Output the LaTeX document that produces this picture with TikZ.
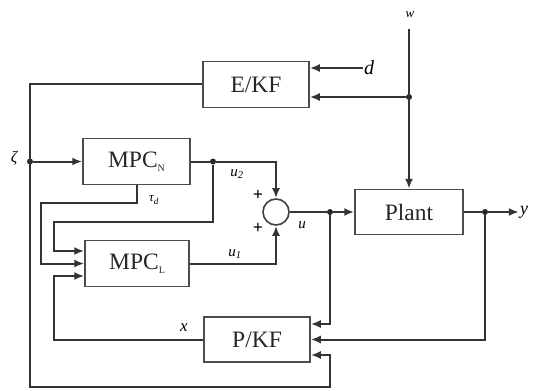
\documentclass[tikz,border=0pt]{standalone}
\usepackage{fontspec}
\setmainfont{Liberation Serif}
\usetikzlibrary{arrows.meta,calc}
\newcommand{\smallsub}[1]{\raisebox{-4pt}{\fontsize{10}{12}\selectfont #1}}
\begin{document}
\begin{tikzpicture}[x=1pt,y=-1pt,
  blk/.style={draw=black!70,line width=1.5pt,minimum width=106pt,minimum height=46pt,inner sep=0pt,text=black!85,font=\rmfamily\fontsize{23.5}{26}\selectfont},
  wire/.style={draw=black!80,line width=2pt},
  arr/.style={wire,-{Latex[length=10pt,width=8pt]}},
  dot/.style={circle,fill=black!85,inner sep=0pt,minimum size=6pt},
  lab/.style={inner sep=1pt,font=\rmfamily\fontsize{15}{17}\selectfont\itshape},
  plus/.style={inner sep=0pt,font=\rmfamily\bfseries\fontsize{18}{20}\selectfont}
]
\useasboundingbox (0,0) rectangle (534,390);
% blocks
\node[blk] (EKF) at (256,84.5) {E/KF};
\node[blk,minimum width=107pt] (MPCN) at (136.5,161.5) {MPC\smallsub{N}};
\node[blk,minimum width=104pt] (MPCL) at (137,263.5) {MPC\smallsub{L}};
\node[blk,minimum width=108pt,minimum height=45pt] (Plant) at (409,212) {Plant};
\node[blk,minimum height=45pt] (PKF) at (257,339.5) {P/KF};
\node[circle,draw=black!75,line width=1.6pt,minimum size=26pt,inner sep=0pt] (sum) at (276,212) {};
% labels
\node[lab,font=\rmfamily\fontsize{13}{15}\selectfont\itshape] (wl) at (410,15) {w};
\node[lab,font=\rmfamily\fontsize{20}{22}\selectfont\itshape] (dl) at (369,68) {d};
\node[lab,font=\rmfamily\fontsize{18}{20}\selectfont\itshape] (yl) at (524,212) {y};
\node[lab,font=\rmfamily\fontsize{16}{18}\selectfont\itshape] (zl) at (14,158) {ζ};
\node[lab] (u2l) at (237,174) {u\textsubscript{2}};
\node[lab] (u1l) at (235,254) {u\textsubscript{1}};
\node[lab] (ul) at (302,225) {u};
\node[lab,font=\rmfamily\fontsize{13}{15}\selectfont\itshape] (tl) at (154,200) {τ\textsubscript{d}};
\node[lab,font=\rmfamily\fontsize{17}{19}\selectfont\itshape] (xl) at (184,328) {x};
\node[plus] (p1) at (258,195) {+};
\node[plus] (p2) at (258,228) {+};
% junctions
\node[dot] (wd) at (409,97) {};
\node[dot] (zd) at (30,161.5) {};
\node[dot] (u2d) at (213,161.5) {};
\node[dot] (ud) at (330,212) {};
\node[dot] (yd) at (485,212) {};
\coordinate (wt) at (409,29);
\coordinate (bl) at (30,387);
\coordinate (br) at (330,387);
\coordinate (u2c) at (54,222);
\coordinate (tc) at (41,203);
\coordinate (xc) at (54,339.5);
% connectors
\draw[arr] (wt) -- (Plant.north);
\draw[arr] (wd) -- (wd -| EKF.east);
\draw[arr] (dl.west) -- (dl.west -| EKF.east);
\draw[arr] (EKF.west) -| (bl) -- (br) |- ([yshift=-15.5pt]PKF.east);
\draw[arr] (zd) -- (MPCN.west);
\draw[wire] (MPCN.east) -- (u2d);
\draw[arr] (u2d) -| (sum.north);
\draw[arr] (u2d) |- (u2c) |- ([yshift=12.5pt]MPCL.west);
\draw[arr] (MPCN.south) |- (tc) |- (MPCL.west);
\draw[arr] (MPCL.east) -| (sum.south);
\draw[wire] (sum.east) -- (ud);
\draw[arr] (ud) -- (Plant.west);
\draw[arr] (ud) |- ([yshift=15.5pt]PKF.east);
\draw[wire] (Plant.east) -- (yd);
\draw[arr] (yd) -- (yl.west);
\draw[arr] (yd) |- (PKF.east);
\draw[arr] (PKF.west) -- (xc) |- ([yshift=-12.5pt]MPCL.west);
\end{tikzpicture}
\end{document}
